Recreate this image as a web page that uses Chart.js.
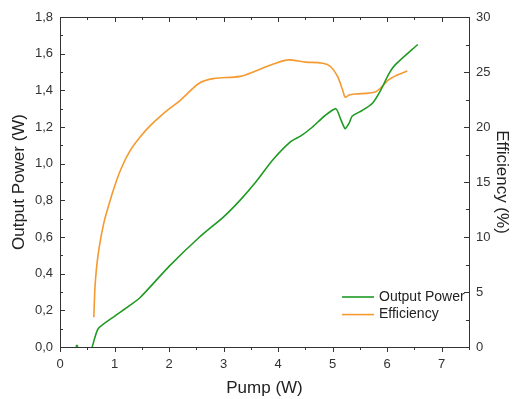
<!DOCTYPE html>
<html>
<head>
<meta charset="utf-8">
<script src="https://cdn.jsdelivr.net/npm/chart.js@4.4.1/dist/chart.umd.min.js"></script>
<style>
  html, body { margin: 0; padding: 0; background: #fff; }
  #wrap { width: 512px; height: 399px; }
</style>
</head>
<body>
<div id="wrap"><canvas id="chart" width="512" height="399"></canvas></div>
<script>
// Data
const powerPump = [0.59, 0.70, 1.01, 1.25, 1.47, 2.00, 2.56, 3.00, 3.30, 3.59, 3.90, 4.23, 4.41, 4.63, 4.85, 5.06, 5.15, 5.23, 5.30, 5.36, 5.54, 5.73, 5.88, 6.03, 6.15, 6.56];
const outputPower = [0.00, 0.10, 0.17, 0.22, 0.27, 0.44, 0.60, 0.71, 0.80, 0.90, 1.02, 1.12, 1.15, 1.20, 1.26, 1.30, 1.24, 1.19, 1.22, 1.26, 1.29, 1.33, 1.40, 1.49, 1.54, 1.65];

const effPump = [0.62, 0.64, 0.67, 0.72, 0.80, 0.90, 1.00, 1.12, 1.28, 1.47, 1.65, 1.89, 2.20, 2.56, 2.81, 3.30, 3.59, 3.90, 4.20, 4.51, 4.81, 4.96, 5.09, 5.18, 5.23, 5.30, 5.42, 5.79, 5.91, 6.03, 6.37];
const efficiency = [2.7, 5.3, 7.2, 9.1, 11.2, 13.0, 14.6, 16.2, 17.8, 19.1, 20.1, 21.2, 22.4, 24.0, 24.4, 24.6, 25.1, 25.7, 26.1, 25.9, 25.8, 25.5, 24.6, 23.4, 22.7, 22.9, 23.0, 23.2, 23.7, 24.3, 25.1];

// stray point near the origin
const strayPoint = [{ x: 0.31, y: 0.005 }];

const xTicks = [0, 1, 2, 3, 4, 5, 6, 7];
const powerTicks = [0, 0.2, 0.4, 0.6, 0.8, 1.0, 1.2, 1.4, 1.6, 1.8];
const effTicks = [0, 5, 10, 15, 20, 25, 30];

const greenColor = '#1f9a22';
const orangeColor = '#f59a30';
const axisColor = '#333';

// Frame and inward/outward tick marks
const frameTicks = {
    id: 'frameTicks',
    afterDraw(chart) {
        const { ctx, chartArea: a, scales } = chart;
        const x = scales.x, y = scales.y, y2 = scales.y2;
        ctx.save();
        ctx.strokeStyle = axisColor;
        ctx.lineWidth = 1;
        ctx.strokeRect(a.left + 0.5, a.top + 0.5, a.right - a.left, a.bottom - a.top);
        ctx.beginPath();
        for (let v = 0; v <= 7.5; v += 0.5) {
            const px = Math.round(x.getPixelForValue(v)) + 0.5;
            const len = Number.isInteger(v) ? 5 : 3;
            // bottom: outward
            ctx.moveTo(px, a.bottom);
            ctx.lineTo(px, a.bottom + len);
            // top: inward
            ctx.moveTo(px, a.top);
            ctx.lineTo(px, a.top + len);
        }
        for (let i = 0; i <= 18; i++) {
            const py = Math.round(y.getPixelForValue(i / 10)) + 0.5;
            const len = i % 2 === 0 ? 5 : 3;
            ctx.moveTo(a.left, py);
            ctx.lineTo(a.left + len, py);
        }
        for (let i = 0; i <= 12; i++) {
            const py = Math.round(y2.getPixelForValue(i * 2.5)) + 0.5;
            const len = i % 2 === 0 ? 5 : 3;
            ctx.moveTo(a.right, py);
            ctx.lineTo(a.right - len, py);
        }
        ctx.stroke();
        ctx.restore();
    }
};

// Legend drawn inside the plot, bottom right
const insideLegend = {
    id: 'insideLegend',
    afterDraw(chart) {
        const { ctx, chartArea: a } = chart;
        const items = chart.data.datasets.filter(d => d.label);
        ctx.save();
        ctx.font = '14px "Liberation Sans", Arial, sans-serif';
        ctx.textBaseline = 'middle';
        ctx.fillStyle = '#222';
        items.forEach((d, i) => {
            const yy = a.bottom - 50 + i * 17.6;
            ctx.strokeStyle = d.borderColor;
            ctx.lineWidth = 1.6;
            ctx.beginPath();
            ctx.moveTo(a.right - 127, yy);
            ctx.lineTo(a.right - 95, yy);
            ctx.stroke();
            ctx.fillText(d.label, a.right - 90, yy);
        });
        ctx.restore();
    }
};

const fmtComma = v => v.toFixed(1).replace('.', ',');
const font13 = { family: '"Liberation Sans", Arial, sans-serif', size: 13 };
const font17 = { family: '"Liberation Sans", Arial, sans-serif', size: 17 };

new Chart(document.getElementById('chart'), {
    type: 'line',
    data: {
        datasets: [
            {
                label: 'Output Power',
                data: powerPump.map((p, i) => ({ x: p, y: outputPower[i] })),
                borderColor: greenColor,
                borderWidth: 1.6,
                pointRadius: 0,
                tension: 0.2,
                yAxisID: 'y'
            },
            {
                label: 'Efficiency',
                data: effPump.map((p, i) => ({ x: p, y: efficiency[i] })),
                borderColor: orangeColor,
                borderWidth: 1.6,
                pointRadius: 0,
                cubicInterpolationMode: 'monotone',
                yAxisID: 'y2'
            },
            {
                label: '',
                data: strayPoint,
                borderColor: greenColor,
                backgroundColor: greenColor,
                showLine: false,
                pointRadius: 1,
                yAxisID: 'y'
            }
        ]
    },
    options: {
        responsive: false,
        animation: false,
        devicePixelRatio: 1,
        layout: { padding: { top: 17, right: 0, left: 0, bottom: 0 } },
        plugins: {
            legend: { display: false },
            tooltip: { enabled: false }
        },
        scales: {
            x: {
                type: 'linear',
                min: 0,
                max: 7.5,
                afterBuildTicks: s => { s.ticks = xTicks.map(v => ({ value: v })); },
                afterFit: s => { s.height = 52; },
                grid: { display: false, drawTicks: false },
                border: { display: false },
                ticks: { padding: 10, color: axisColor, font: font13 },
                title: {
                    display: true,
                    text: 'Pump (W)',
                    color: '#222',
                    padding: { top: 0, bottom: 0 },
                    font: font17
                }
            },
            y: {
                position: 'left',
                min: 0,
                max: 1.8,
                afterBuildTicks: s => { s.ticks = powerTicks.map(v => ({ value: v })); },
                afterFit: s => { s.width = 60; },
                grid: { display: false, drawTicks: false },
                border: { display: false },
                ticks: { padding: 7, color: axisColor, callback: v => fmtComma(v), font: font13 },
                title: {
                    display: true,
                    text: 'Output Power (W)',
                    color: '#222',
                    padding: { top: 9, bottom: 0 },
                    font: font17
                }
            },
            y2: {
                position: 'right',
                min: 0,
                max: 30,
                afterBuildTicks: s => { s.ticks = effTicks.map(v => ({ value: v })); },
                afterFit: s => { s.width = 43; },
                grid: { display: false, drawTicks: false },
                border: { display: false },
                ticks: { padding: 7, color: axisColor, font: font13 },
                title: {
                    display: true,
                    text: 'Efficiency (%)',
                    color: '#222',
                    padding: { top: 0, bottom: 3 },
                    font: font17
                }
            }
        }
    },
    plugins: [frameTicks, insideLegend]
});
</script>
</body>
</html>
